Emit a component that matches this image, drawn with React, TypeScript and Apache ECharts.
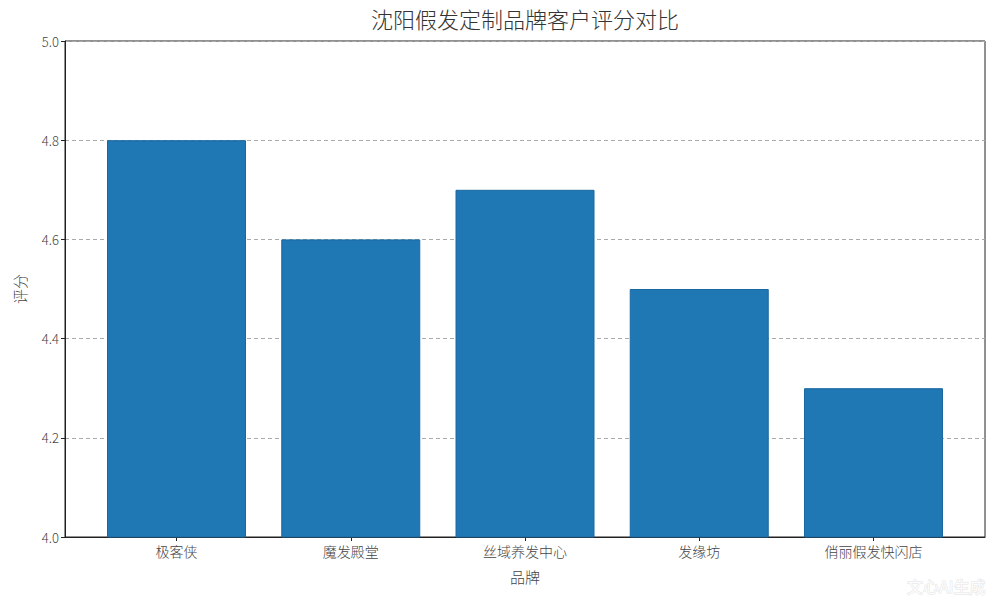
import React, { useEffect, useRef } from "react";
import * as echarts from "echarts";

const categories = ["极客侠", "魔发殿堂", "丝域养发中心", "发缘坊", "俏丽假发快闪店"];
const scores = [4.8, 4.6, 4.7, 4.5, 4.3];
const yTicks = [4.0, 4.2, 4.4, 4.6, 4.8, 5.0];

const FONT = "'Noto Sans CJK SC', 'Noto Sans', sans-serif";

export default function App() {
  const ref = useRef<HTMLDivElement>(null);
  useEffect(() => {
    if (!ref.current) return;
    const chart = echarts.init(ref.current, undefined, { renderer: "svg" });
    const idx = categories.map((_, i) => i);
    chart.setOption({
      animation: false,
      backgroundColor: "#ffffff",
      textStyle: { fontFamily: FONT },
      title: {
        text: "沈阳假发定制品牌客户评分对比",
        left: 371,
        top: 7,
        padding: 0,
        textStyle: { fontFamily: FONT, fontSize: 22, fontWeight: 300, color: "#333333" },
      },
      grid: {
        left: 65,
        right: 15,
        top: 41,
        bottom: 63,
        show: true,
        borderColor: "#222222",
        borderWidth: 1,
        containLabel: false,
      },
      xAxis: {
        type: "value",
        min: -0.64,
        max: 4.64,
        name: "品牌",
        nameLocation: "middle",
        nameGap: 32,
        nameTextStyle: { fontFamily: FONT, fontSize: 15, color: "#444444", fontWeight: 300 },
        axisLine: { show: true, onZero: false, lineStyle: { color: "#222222", width: 1 } },
        axisTick: { show: true, customValues: idx, length: 4, inside: false, lineStyle: { color: "#222222" } },
        axisLabel: {
          customValues: idx,
          formatter: (v: number) => categories[Math.round(v)] ?? "",
          fontFamily: FONT,
          fontSize: 14,
          fontWeight: 300,
          color: "#444444",
          margin: 7,
        },
        splitLine: { show: false },
      },
      yAxis: {
        type: "value",
        min: 4.0,
        max: 5.0,
        interval: 0.2,
        name: "评分",
        nameLocation: "middle",
        nameGap: 38,
        nameTextStyle: { fontFamily: FONT, fontSize: 15, color: "#444444", fontWeight: 300 },
        axisLine: { show: true, onZero: false, lineStyle: { color: "#222222", width: 1 } },
        axisTick: { show: true, length: 4, lineStyle: { color: "#222222" } },
        axisLabel: {
          formatter: (v: number) => (yTicks.some((t) => Math.abs(t - v) < 1e-6) ? v.toFixed(1) : ""),
          fontFamily: FONT,
          fontSize: 13,
          fontWeight: 300,
          color: "#444444",
          margin: 6,
        },
        splitLine: { show: true, lineStyle: { color: "#aaaaaa", type: [4, 3], width: 1 } },
      },
      series: [
        {
          type: "bar",
          data: scores.map((v, i) => [i, v]),
          barWidth: 139,
          itemStyle: { color: "#1f77b4", borderColor: "#1a68a0", borderWidth: 1 },
          z: 1,
        },
      ],
      graphic: [
        {
          type: "text",
          right: 14,
          bottom: 6,
          style: {
            text: "文心AI生成",
            fontFamily: FONT,
            fontSize: 16,
            fill: "rgba(255,255,255,0.9)",
            stroke: "rgba(200,200,200,0.5)",
            lineWidth: 1,
          },
        },
      ],
    });
    return () => chart.dispose();
  }, []);
  return (
    <div
      ref={ref}
      style={{ position: "fixed", left: 0, top: 0, width: 1000, height: 600 }}
    />
  );
}
